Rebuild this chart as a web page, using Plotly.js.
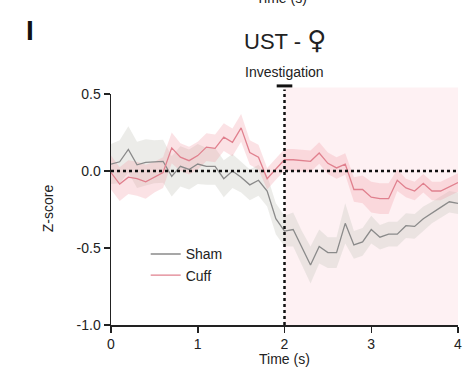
<!DOCTYPE html>
<html><head><meta charset="utf-8">
<script src="https://cdn.plot.ly/plotly-3.0.1.min.js"></script>
<style>body{margin:0;background:#fff}#c{width:464px;height:376px}</style>
</head><body><div id="c"></div>
<script>
const time = [0,0.1,0.2,0.3,0.4,0.5,0.6,0.7,0.8,0.9,1.0,1.1,1.2,1.3,1.4,1.5,1.6,1.7,1.8,1.9,2.0,2.1,2.2,2.3,2.4,2.5,2.6,2.7,2.8,2.9,3.0,3.1,3.2,3.3,3.4,3.5,3.6,3.7,3.8,3.9,4.0];
const shamMean = [0.045,0.06,0.14,0.04,0.056,0.06,0.063,-0.035,0.03,0.01,0.045,0.03,0.03,-0.05,0.0,-0.04,-0.09,-0.06,-0.13,-0.31,-0.39,-0.38,-0.5,-0.61,-0.49,-0.53,-0.53,-0.34,-0.48,-0.46,-0.38,-0.43,-0.41,-0.41,-0.355,-0.36,-0.31,-0.27,-0.236,-0.2,-0.21];
const shamSem = [0.13,0.14,0.15,0.15,0.15,0.14,0.14,0.13,0.13,0.13,0.13,0.12,0.12,0.12,0.11,0.1,0.1,0.1,0.1,0.1,0.1,0.11,0.11,0.12,0.11,0.1,0.1,0.13,0.09,0.09,0.09,0.08,0.08,0.08,0.08,0.08,0.08,0.07,0.07,0.07,0.07];
const cuffMean = [-0.01,-0.085,-0.04,-0.05,-0.07,-0.04,-0.01,0.15,0.09,0.067,0.1,0.155,0.147,0.22,0.186,0.28,0.12,0.09,-0.05,0.013,0.073,0.073,0.067,0.063,0.117,0.05,0.02,0.045,-0.12,-0.12,-0.17,-0.18,-0.18,-0.06,-0.11,-0.13,-0.08,-0.13,-0.13,-0.1,-0.075];
const cuffSem = [0.11,0.11,0.11,0.11,0.11,0.1,0.1,0.1,0.09,0.09,0.09,0.09,0.09,0.09,0.09,0.09,0.08,0.08,0.07,0.07,0.07,0.07,0.07,0.07,0.07,0.07,0.07,0.07,0.08,0.09,0.1,0.1,0.1,0.07,0.06,0.06,0.06,0.06,0.06,0.06,0.06];
const xTicks = [0,1,2,3,4];
const yTicks = [0.5,0,-0.5,-1.0];
const yTickText = ['0.5','0.0','-0.5','-1.0'];

function band(mean, sem, color){
  const up = mean.map((m,i)=>m+sem[i]);
  const lo = mean.map((m,i)=>m-sem[i]);
  return {x: time.concat(time.slice().reverse()), y: up.concat(lo.slice().reverse()),
    type:'scatter', mode:'lines', fill:'toself', fillcolor: color, line:{width:0}, hoverinfo:'skip', showlegend:false};
}
const font = 'Liberation Sans, Arial, DejaVu Sans, sans-serif';
const traces = [
  band(shamMean, shamSem, 'rgba(205,205,198,0.38)'),
  band(cuffMean, cuffSem, 'rgba(242,160,170,0.30)'),
  {x: time, y: shamMean, type:'scatter', mode:'lines', name:'Sham', line:{color:'#8a8a8a', width:1.3}},
  {x: time, y: cuffMean, type:'scatter', mode:'lines', name:'Cuff', line:{color:'#e0808e', width:1.3}}
];
function ann(text, xref, x, y, size, extra){
  return Object.assign({text:text, xref:xref, yref:'paper', x:x, y:y, xanchor:'center', yanchor:'middle',
    showarrow:false, font:{size:size, color:'#222', family:font}}, extra||{});
}
const layout = {
  width:464, height:376,
  margin:{l:111, r:6, t:94, b:51},
  paper_bgcolor:'#fff', plot_bgcolor:'rgba(0,0,0,0)',
  font:{family:font, size:14, color:'#222'},
  showlegend:true,
  legend:{x:0.1, y:0.375, xanchor:'left', yanchor:'top', bgcolor:'rgba(0,0,0,0)', font:{size:14, color:'#222'}, tracegroupgap:0},
  xaxis:{range:[0,4], tickvals:xTicks, ticks:'outside', ticklen:6, tickwidth:1.5, tickcolor:'#222',
    showline:true, linecolor:'#222', linewidth:1.5, showgrid:false, zeroline:false, fixedrange:true},
  yaxis:{range:[-1,0.5], tickvals:yTicks, ticktext:yTickText, ticks:'outside', ticklen:6, tickwidth:1.5, tickcolor:'#222',
    showline:true, linecolor:'#222', linewidth:1.5, showgrid:false, zeroline:false, fixedrange:true},
  shapes:[
    {type:'rect', xref:'x', yref:'paper', x0:2, x1:4, y0:0, y1:1.028, fillcolor:'#fef1f3', line:{width:0}, layer:'below'},
    {type:'line', xref:'x', yref:'y', x0:0, x1:4, y0:0, y1:0, line:{color:'#111', width:2.5, dash:'dot'}},
    {type:'line', xref:'x', yref:'paper', x0:2, x1:2, y0:0, y1:1.02, line:{color:'#111', width:2.5, dash:'dot'}},
    {type:'line', xref:'x', yref:'paper', x0:1.91, x1:2.09, y0:1.035, y1:1.035, line:{color:'#111', width:3}}
  ],
  annotations:[
    ann('Time (s)', 'x', 1.97, 1.415, 14),
    ann('<b>I</b>', 'paper', -0.233, 1.277, 28, {font:{size:28, color:'#111', family:font}}),
    ann('UST - <span style="font-family:DejaVu Sans;font-size:26px">♀</span>', 'x', 2, 1.234, 22),
    ann('Investigation', 'x', 2, 1.095, 14),
    ann('Time (s)', 'x', 2, -0.148, 14),
    ann('Z-score', 'paper', -0.182, 0.505, 14, {textangle:-90})
  ]
};
Plotly.newPlot('c', traces, layout, {displayModeBar:false, staticPlot:true});
</script></body></html>
